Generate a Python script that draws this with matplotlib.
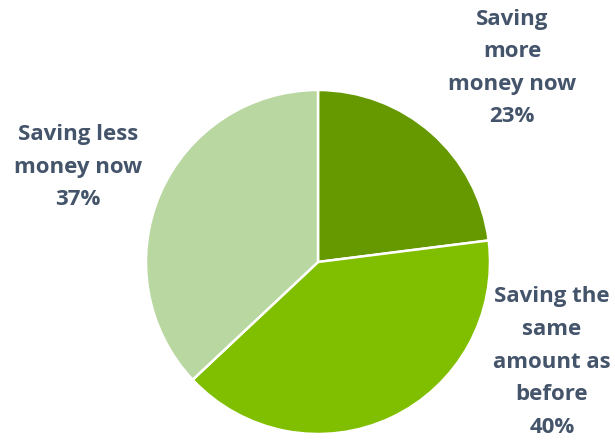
import matplotlib.pyplot as plt

plt.rcParams['font.family'] = ['Open Sans', 'DejaVu Sans']

# Respuestas
etiquetas = ['Saving\nmore\nmoney now', 'Saving the\nsame\namount as\nbefore', 'Saving less\nmoney now']
valores   = [23, 40, 37]
colores   = ['#669900', '#80BE00', '#B9D7A0']

# posicion de cada etiqueta (coordenadas de la figura, en pixeles)
pos_etiq  = [(512, 68), (552, 362), (78, 167)]

fig = plt.figure(figsize=(6.15, 4.4), dpi=100)
ax = fig.add_axes([(318 - 172) / 615, 6 / 440, 344 / 615, 344 / 440])

ax.pie(valores, colors=colores, startangle=90, counterclock=False,
       wedgeprops={'edgecolor': 'white', 'linewidth': 1.8})
ax.set_xlim(-1, 1)
ax.set_ylim(-1, 1)
ax.set_aspect('equal')
ax.axis('off')

for et, v, (x, y) in zip(etiquetas, valores, pos_etiq):
    fig.text(x / 615, 1 - y / 440, f'{et}\n{v}%', ha='center', va='center',
             fontsize=16, fontweight='bold', color='#44546A', linespacing=1.72)

fig.savefig('out.png')
